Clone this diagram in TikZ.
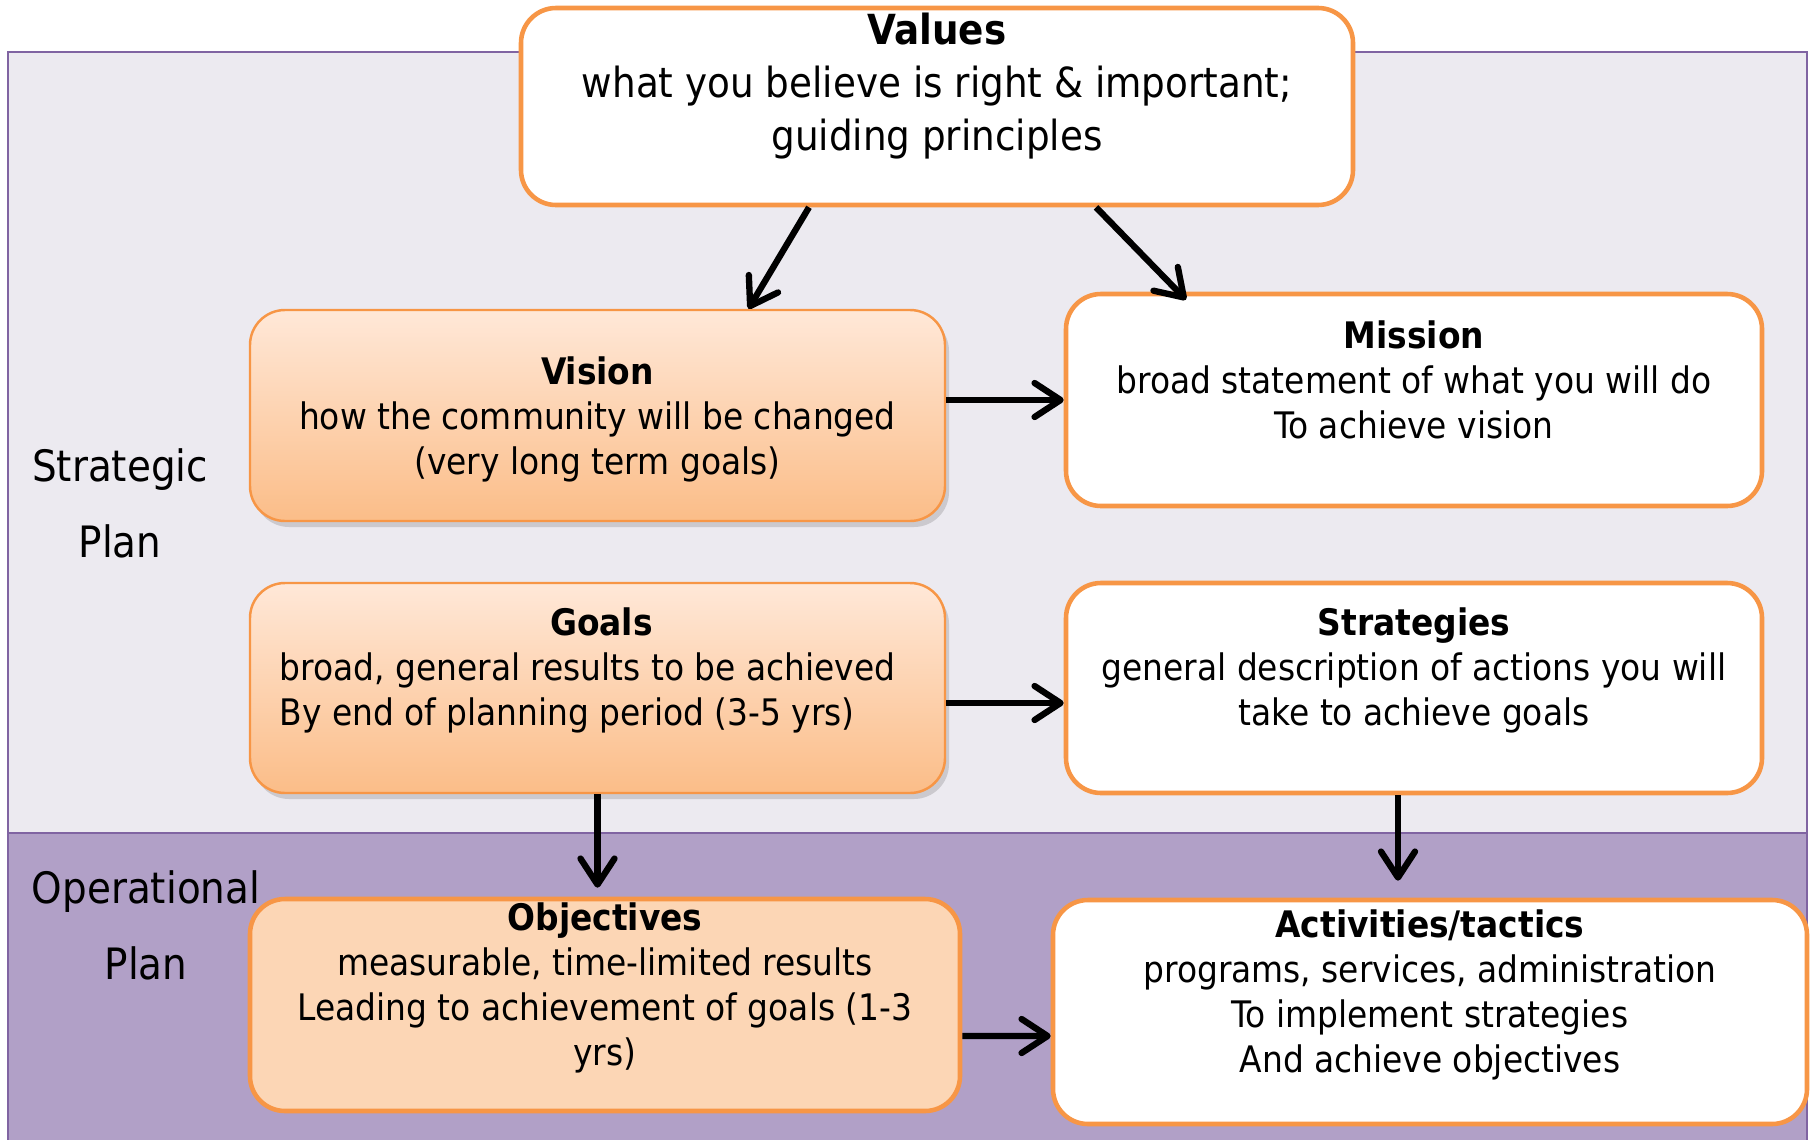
\documentclass[tikz,border=0pt]{standalone}
\usepackage{fontspec}
\setmainfont{DejaVu Sans Condensed}
\usepackage{tikz}
\usetikzlibrary{positioning,arrows.meta,shadows}

\definecolor{planbg}{HTML}{ECEAF0}
\definecolor{opbg}{HTML}{B1A0C7}
\definecolor{frameline}{HTML}{8064A2}
\definecolor{boxline}{HTML}{F79646}
\definecolor{peachtop}{HTML}{FFE8D8}
\definecolor{peachbot}{HTML}{FBBD88}
\definecolor{peachflat}{HTML}{FCD6B5}

\tikzset{
  whitebox/.style={draw=boxline, line width=1.3pt, fill=white, rounded corners=0.35cm},
  shadebox/.style={draw=boxline, line width=0.7pt, rounded corners=0.35cm,
    top color=peachtop, bottom color=peachbot,
    drop shadow={opacity=0.3, shadow xshift=0.04cm, shadow yshift=-0.06cm}},
  flatbox/.style={draw=boxline, line width=1.3pt, fill=peachflat, rounded corners=0.35cm},
  boxtext/.style={align=center, font=\fontsize{10.4}{12.8}\selectfont},
  sidetext/.style={align=center, font=\fontsize{12.3}{21.5}\selectfont},
  flow/.style={line width=1.8pt, -{Straight Barb[round, length=2.6mm, width=3.4mm]}}
}

\begin{document}
\begin{tikzpicture}
\useasboundingbox (0,0) rectangle (18.16,11.39);

% Background bands
\fill[planbg, draw=frameline, line width=0.6pt] (0.08,3.06) rectangle (18.07,10.87);
\fill[opbg, draw=frameline, line width=0.6pt] (0.08,-0.2) rectangle (18.07,3.06);

% Side labels
\node[sidetext] (strategic) at (1.2,6.355) {Strategic\\Plan};
\node[sidetext] (operational) at (1.46,2.135) {Operational\\Plan};

% Boxes
\node[whitebox, minimum width=8.32cm, minimum height=1.97cm] (values) at (9.37,10.325) {};
\node[shadebox, minimum width=6.95cm, minimum height=2.11cm] (vision) at (5.975,7.235) {};
\node[whitebox, minimum width=6.96cm, minimum height=2.12cm] (mission) at (14.14,7.39) {};
\node[shadebox, minimum width=6.95cm, minimum height=2.10cm] (goals) at (5.975,4.51) {};
\node[whitebox, minimum width=6.96cm, minimum height=2.10cm] (strategies) at (14.14,4.51) {};
\node[flatbox, minimum width=7.10cm, minimum height=2.12cm] (objectives) at (6.05,1.34) {};
\node[whitebox, minimum width=7.54cm, minimum height=2.24cm] (activities) at (14.30,1.27) {};

% Box texts
\node[boxtext, font=\fontsize{11.8}{15}\selectfont] (valuestext) at ([yshift=2.05mm]values)
  {\textbf{Values}\\what you believe is right \& important;\\guiding principles};
\node[boxtext] (visiontext) at ([yshift=-0.4mm]vision)
  {\textbf{Vision}\\how the community will be changed\\(very long term goals)};
\node[boxtext] (missiontext) at ([yshift=2.05mm]mission)
  {\textbf{Mission}\\broad statement of what you will do\\To achieve vision};
\node[boxtext] (goalstext) at ([xshift=-1mm, yshift=1.45mm]goals)
  {\hspace*{2.8mm}\textbf{Goals}\\\begin{tabular}[t]{@{}l@{}}broad, general results to be achieved\\By end of planning period (3-5 yrs)\end{tabular}};
\node[boxtext] (strategiestext) at ([yshift=1.8mm]strategies)
  {\textbf{Strategies}\\general description of actions you will\\take to achieve goals};
\node[boxtext] (objectivestext) at ([yshift=1.75mm]objectives)
  {\textbf{Objectives}\\measurable, time-limited results\\Leading to achievement of goals (1-3\\yrs)};
\node[boxtext] (activitiestext) at ([yshift=1.75mm]activities)
  {\textbf{Activities/tactics}\\programs, services, administration\\To implement strategies\\And achieve objectives};

% Arrows
\draw[flow] ([xshift=-12.8mm]values.south) -- ([xshift=15.1mm]vision.north);
\draw[flow] ([xshift=15.9mm]values.south) -- ([xshift=-22.8mm, yshift=-0.8mm]mission.north);
\draw[flow] (vision.east |- mission.west) -- (mission.west);
\draw[flow] ([yshift=-1.5mm]goals.east) -- ([yshift=-1.5mm]strategies.west);
\draw[flow] (goals.south) -- ([yshift=0.9mm]goals.south |- objectives.north);
\draw[flow] ([xshift=-1.6mm]strategies.south) -- ([xshift=-1.6mm, yshift=1.7mm]strategies.south |- activities.north);
\draw[flow] ([yshift=-3.1mm]objectives.east) -- ([yshift=-2.4mm]activities.west);
\end{tikzpicture}
\end{document}
